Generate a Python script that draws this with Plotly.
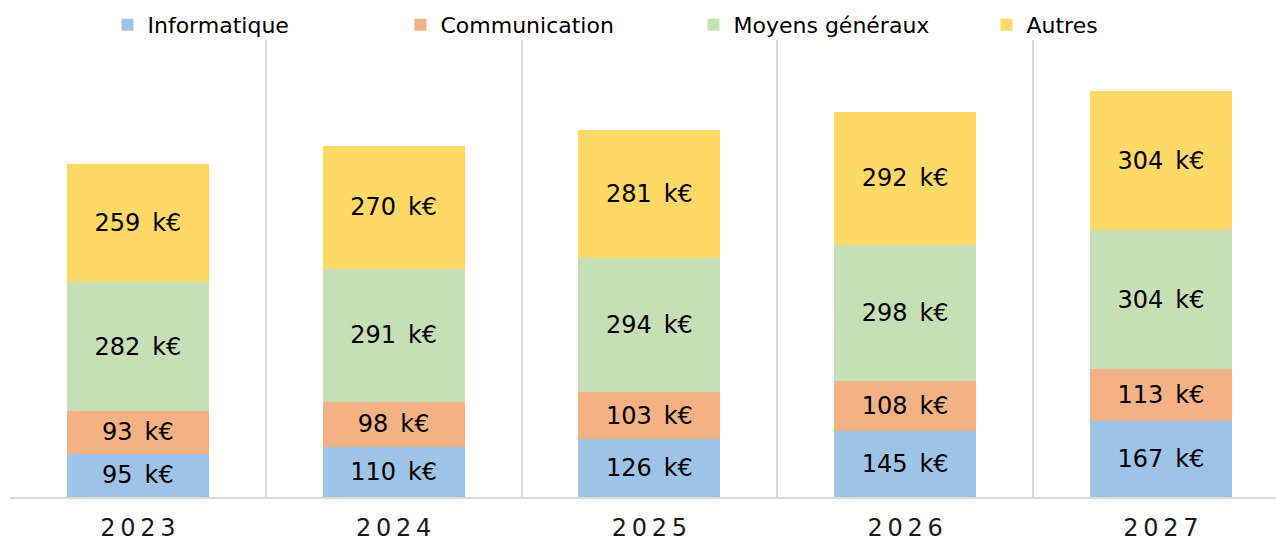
import plotly.graph_objects as go

years = ["2023", "2024", "2025", "2026", "2027"]
informatique = [95, 110, 126, 145, 167]
communication = [93, 98, 103, 108, 113]
moyens_generaux = [282, 291, 294, 298, 304]
autres = [259, 270, 281, 292, 304]

series_names = ["Informatique", "Communication", "Moyens généraux", "Autres"]
series_values = [informatique, communication, moyens_generaux, autres]
series_colors = ["#9DC3E6", "#F4B183", "#C5E0B4", "#FFD966"]

FONT = "DejaVu Sans"
xpos = list(range(len(years)))
tick_text = ["\u2009".join(y) for y in years]
boundaries = [i - 0.5 for i in range(len(years) + 1)]

fig = go.Figure()
for name, vals, col in zip(series_names, series_values, series_colors):
    fig.add_trace(go.Bar(
        x=xpos, y=vals, name=name,
        marker=dict(color=col, line=dict(width=0)),
        texttemplate="%{y}\u2002k€",
        textposition="inside", insidetextanchor="middle",
        textangle=0, constraintext="none",
        textfont=dict(family=FONT, size=24, color="#000000"),
        hoverinfo="skip",
    ))

# invisible trace to bind secondary x axis for grid lines
fig.add_trace(go.Scatter(x=[boundaries[0]], y=[0], xaxis="x2", mode="markers",
                         marker=dict(opacity=0), showlegend=False, hoverinfo="skip"))

xr = [-0.5, 4.45]
fig.update_layout(
    width=1276, height=543,
    margin=dict(l=10, r=0, t=40, b=46, autoexpand=False),
    barmode="stack", bargap=0.445,
    plot_bgcolor="white", paper_bgcolor="white",
    font=dict(family=FONT, color="#000000"),
    xaxis=dict(range=xr, tickvals=xpos, ticktext=tick_text, showgrid=False,
               showline=True, linecolor="#d9d9d9", linewidth=1.5,
               ticks="", tickfont=dict(family=FONT, size=24, color="#1a1a1a"),
               ticklabelstandoff=8, zeroline=False, fixedrange=True,
               automargin=False),
    xaxis2=dict(range=xr, overlaying="x", tickvals=boundaries, showgrid=True,
                gridcolor="#dadada", gridwidth=1.5, showticklabels=False,
                ticks="", showline=False, zeroline=False, side="bottom",
                automargin=False),
    yaxis=dict(range=[0, 1000], showgrid=False, showticklabels=False,
               zeroline=False, showline=False, ticks="", automargin=False),
    legend=dict(orientation="h", x=0.077, xanchor="left", y=1.033, yanchor="middle",
                font=dict(family=FONT, size=22, color="#000000"),
                entrywidth=248, entrywidthmode="pixels",
                traceorder="normal", bgcolor="rgba(0,0,0,0)"),
    showlegend=True,
)

fig.write_html(
    "out.html",
    config={"displayModeBar": False, "responsive": False},
    post_script="document.body.style.margin='0';document.documentElement.style.overflow='hidden';document.body.style.overflow='hidden';",
)
